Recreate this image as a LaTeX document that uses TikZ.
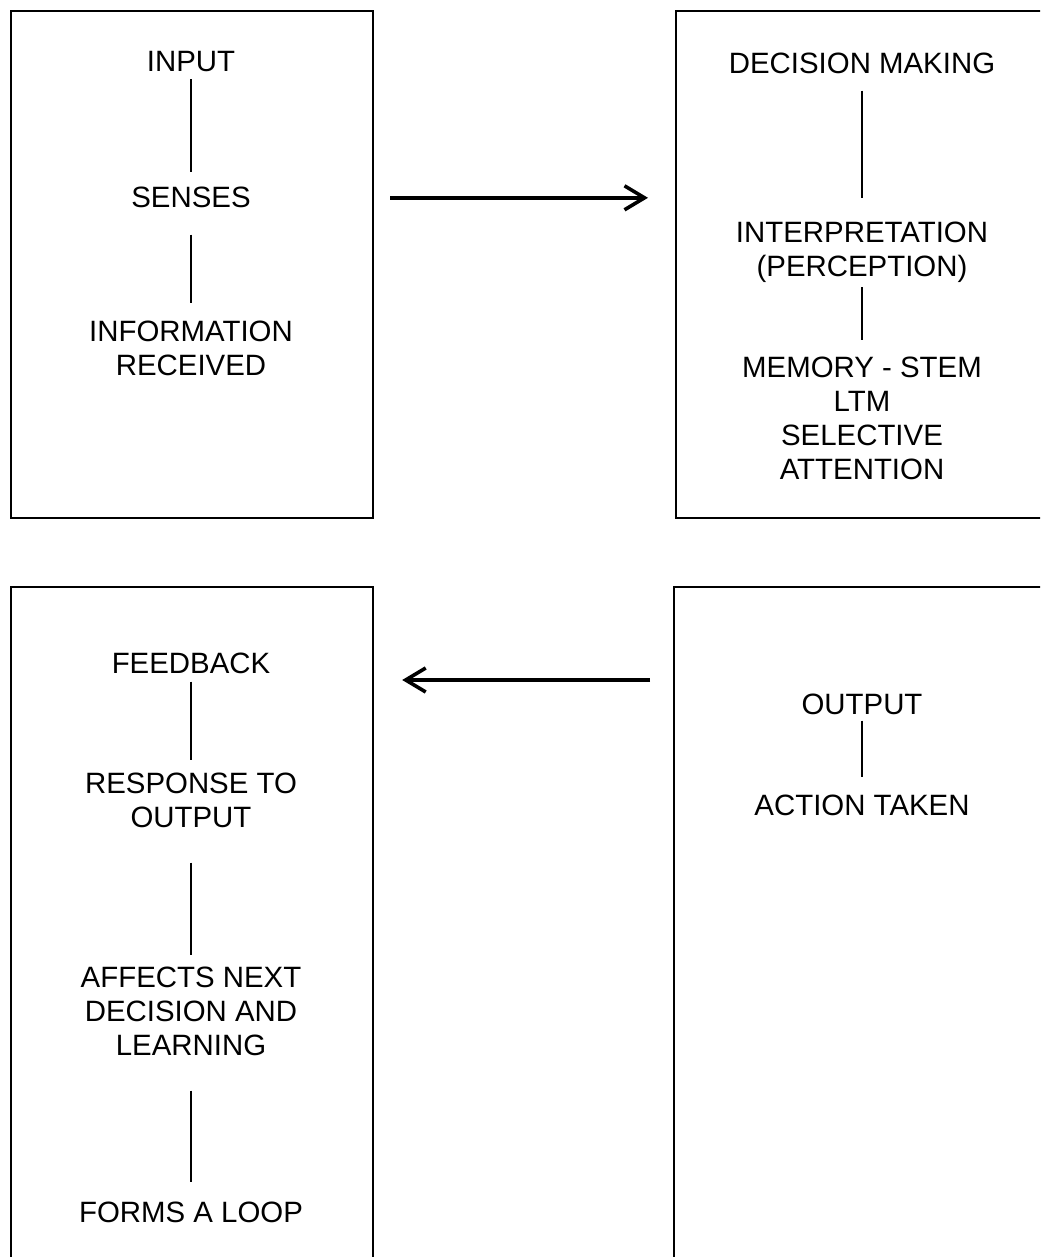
\documentclass[tikz,border=0pt]{standalone}
\usepackage{fontspec}
\setmainfont{Liberation Sans}
\usetikzlibrary{arrows.meta, positioning}

\begin{document}
\begin{tikzpicture}[
    x=0.5pt, y=-0.5pt,
    font=\fontsize{14.7}{17}\selectfont,
    stagebox/.style={draw, line width=1.1pt, anchor=north west,
        inner sep=0pt, minimum width=#1},
    stagetext/.style={align=center, inner sep=0pt, anchor=north},
    link/.style={line width=1.2pt},
    flow/.style={-{Straight Barb[length=10pt, width=12pt]}, line width=1.8pt},
]
\clip (0,0) rectangle (1040,1257);

%% ========== BOXES ==========
\node[stagebox=181pt, minimum height=253.5pt] (inbox) at (10,10) {};
\node[stagebox=187pt, minimum height=253.5pt] (decbox) at (675,10) {};
\node[stagebox=181pt, minimum height=360pt] (fbbox) at (10,586) {};
\node[stagebox=187pt, minimum height=360pt] (outbox) at (673,586) {};

%% ========== INPUT ==========
\node[stagetext] (input) at (191,51) {INPUT};
\node[stagetext] (senses) at (191,187) {SENSES};
\node[stagetext] (info) at (191,321) {INFORMATION\\RECEIVED};
\draw[link, shorten <=3.5pt, shorten >=7.5pt] (input) -- (senses);
\draw[link, shorten <=13pt, shorten >=9pt] (senses) -- (info);

%% ========== DECISION ==========
\node[stagetext] (decide) at (862,53) {DECISION MAKING};
\node[stagetext] (interp) at (862,222) {INTERPRETATION\\(PERCEPTION)};
\node[stagetext] (memory) at (862,357) {MEMORY - STEM\\LTM\\SELECTIVE\\ATTENTION};
\draw[link, shorten <=8pt, shorten >=12pt] (decide) -- (interp);
\draw[link, shorten <=2pt, shorten >=8.5pt] (interp) -- (memory);

%% ========== OUTPUT ==========
\node[stagetext] (output) at (862,694) {OUTPUT};
\node[stagetext] (action) at (862,795) {ACTION TAKEN};
\draw[link, shorten <=2.5pt, shorten >=9pt] (output) -- (action);

%% ========== FEEDBACK ==========
\node[stagetext] (feedback) at (191,653) {FEEDBACK};
\node[stagetext] (response) at (191,773) {RESPONSE TO\\OUTPUT};
\node[stagetext] (affects) at (191,967) {AFFECTS NEXT\\DECISION AND\\LEARNING};
\node[stagetext] (loop) at (191,1202) {FORMS A LOOP};
\draw[link, shorten <=3.5pt, shorten >=6.5pt] (feedback) -- (response);
\draw[link, shorten <=17pt, shorten >=6pt] (response) -- (affects);
\draw[link, shorten <=17pt, shorten >=10pt] (affects) -- (loop);

%% ========== ARROWS ==========
\coordinate (back) at (0,680);
\draw[flow, shorten <=8pt, shorten >=13.5pt] (inbox.east |- senses) -- (decbox.west |- senses);
\draw[flow, shorten <=11.5pt, shorten >=14pt] (outbox.west |- back) -- (fbbox.east |- back);
\end{tikzpicture}
\end{document}
